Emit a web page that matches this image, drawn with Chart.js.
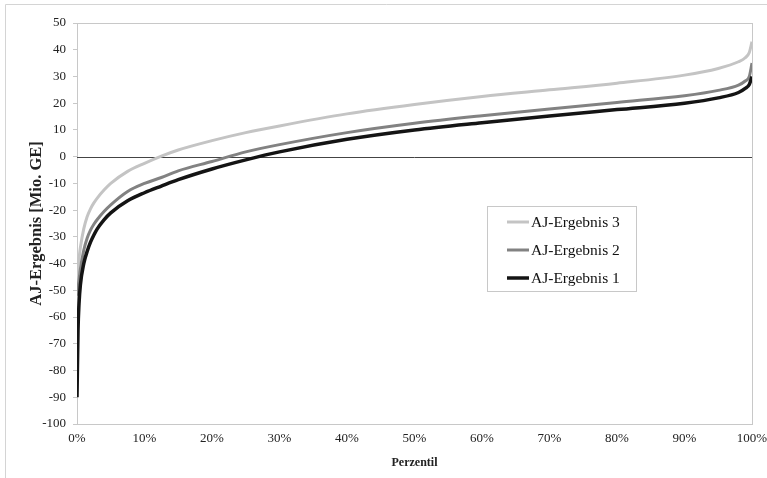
<!DOCTYPE html>
<html>
<head>
<meta charset="utf-8">
<script src="https://cdn.jsdelivr.net/npm/chart.js@4"></script>
<style>
  html, body { margin: 0; padding: 0; background: #fff; }
  #wrap { width: 767px; height: 478px; position: relative; }
</style>
</head>
<body>
<div id="wrap"><canvas id="chart" width="767" height="478"></canvas></div>
<script>
// Perzentil (in %)
const percentiles = [0, 0.15, 0.3, 0.5, 1, 1.5, 2, 2.5, 3, 4, 5, 7.5, 10, 12.5, 15, 20, 25, 30, 40, 50, 60, 70, 80, 90, 95, 98, 99, 99.6, 100];

// AJ-Ergebnis in Mio. GE
const ergebnis3 = [-45, -41, -38, -34, -27, -22.5, -19.5, -17.3, -15.5, -12.5, -10, -5.5, -2.5, 0.2, 2.5, 6, 9, 11.5, 16, 19.5, 22.5, 25, 27.5, 30.5, 33, 35.5, 37, 39, 43];
const ergebnis2 = [-52, -49, -46, -42, -35, -30.5, -27.5, -25.3, -23.5, -20.5, -18, -13, -10, -7.8, -5.3, -1.8, 1.8, 4.5, 9, 12.5, 15.3, 17.8, 20.3, 22.8, 24.8, 26.8, 28.3, 30, 35];
const ergebnis1 = [-90, -65, -55, -48, -40, -35.5, -32, -29.3, -27, -23.6, -21, -16.5, -13.5, -11, -8.6, -4.6, -1.2, 1.8, 6.5, 10, 12.7, 15.2, 17.6, 20, 22, 24, 25.5, 27, 30];

const seriesLabels = ["AJ-Ergebnis 3", "AJ-Ergebnis 2", "AJ-Ergebnis 1"];
const seriesColors = ["#c4c4c4", "#828282", "#141414"];

const serif = "'Liberation Serif', 'Times New Roman', serif";

function toPoints(values) {
    return percentiles.map((p, i) => ({ x: p, y: values[i] }));
}

// Rahmen, Nulllinie und Legende
const decorPlugin = {
    id: 'decor',
    beforeDraw(chart) {
        const { ctx, width, height } = chart;
        ctx.save();
        ctx.fillStyle = "#fff";
        ctx.fillRect(0, 0, width, height);
        ctx.strokeStyle = "#d4d4d4";
        ctx.lineWidth = 1;
        ctx.beginPath();
        ctx.moveTo(5.5, height);
        ctx.lineTo(5.5, 4.5);
        ctx.lineTo(width, 4.5);
        ctx.stroke();
        ctx.restore();
    },
    beforeDatasetsDraw(chart) {
        const { ctx, chartArea: a, scales } = chart;
        ctx.save();
        ctx.strokeStyle = "#c8c8c8";
        ctx.lineWidth = 1;
        ctx.strokeRect(a.left + 0.5, a.top + 0.5, a.right - a.left, a.bottom - a.top);
        const y0 = Math.round(scales.y.getPixelForValue(0)) + 0.5;
        ctx.strokeStyle = "#444";
        ctx.beginPath();
        ctx.moveTo(a.left, y0);
        ctx.lineTo(a.right, y0);
        ctx.stroke();
        ctx.restore();
    },
    afterDatasetsDraw(chart) {
        const { ctx } = chart;
        const box = { x: 487.5, y: 206.5, w: 149, h: 85 };
        ctx.save();
        ctx.fillStyle = "#fff";
        ctx.fillRect(box.x, box.y, box.w, box.h);
        ctx.strokeStyle = "#c8c8c8";
        ctx.lineWidth = 1;
        ctx.strokeRect(box.x, box.y, box.w, box.h);
        ctx.font = "15.5px " + serif;
        ctx.textBaseline = "middle";
        ctx.fillStyle = "#111";
        chart.data.datasets.forEach((ds, i) => {
            const cy = 222 + i * 28;
            ctx.strokeStyle = ds.borderColor;
            ctx.lineWidth = ds.borderWidth;
            ctx.beginPath();
            ctx.moveTo(507, cy);
            ctx.lineTo(529, cy);
            ctx.stroke();
            ctx.fillText(ds.label, 531, cy + 1);
        });
        ctx.restore();
    }
};

const ctx = document.getElementById('chart').getContext('2d');

new Chart(ctx, {
    type: 'line',
    data: {
        datasets: [
            { label: seriesLabels[0], data: toPoints(ergebnis3), borderColor: seriesColors[0], borderWidth: 3, order: 2 },
            { label: seriesLabels[1], data: toPoints(ergebnis2), borderColor: seriesColors[1], borderWidth: 3, order: 1 },
            { label: seriesLabels[2], data: toPoints(ergebnis1), borderColor: seriesColors[2], borderWidth: 3.5, order: 0 }
        ]
    },
    options: {
        responsive: false,
        animation: false,
        elements: {
            point: { radius: 0 },
            line: { cubicInterpolationMode: 'monotone', fill: false }
        },
        layout: { padding: { left: 20, right: 0, top: 23, bottom: 4 } },
        scales: {
            x: {
                type: 'linear',
                min: 0,
                max: 100,
                border: { display: false },
                grid: { display: false, drawTicks: false },
                ticks: {
                    stepSize: 10,
                    padding: 7,
                    color: "#222",
                    font: { family: serif, size: 13 },
                    callback: v => v + "%"
                },
                title: {
                    display: true,
                    text: "Perzentil",
                    color: "#222",
                    font: { family: serif, size: 12, weight: 'bold' },
                    padding: { top: 0, bottom: 4 }
                },
                afterFit(scale) {
                    scale.height = 50;
                    scale.paddingRight = 15;
                }
            },
            y: {
                min: -100,
                max: 50,
                border: { display: false },
                grid: { drawOnChartArea: false, drawTicks: true, tickLength: 4, color: "#c8c8c8" },
                ticks: {
                    stepSize: 10,
                    padding: 7,
                    color: "#222",
                    font: { family: serif, size: 13 }
                },
                title: {
                    display: true,
                    text: "AJ-Ergebnis [Mio. GE]",
                    color: "#222",
                    font: { family: serif, size: 16.5, weight: 'bold' },
                    padding: { top: 7, bottom: 0 }
                },
                afterFit(scale) { scale.width = 57; }
            }
        },
        plugins: {
            legend: { display: false },
            tooltip: { enabled: false }
        }
    },
    plugins: [decorPlugin]
});
</script>
</body>
</html>
